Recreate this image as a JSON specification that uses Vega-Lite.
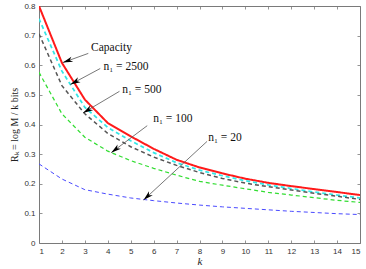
{
  "$schema": "https://vega.github.io/schema/vega-lite/v6.json",
  "width": 321,
  "height": 237,
  "autosize": "none",
  "padding": {"left": 39, "top": 6, "right": 6, "bottom": 26},
  "background": "white",
  "config": {
    "view": {"stroke": null},
    "axis": {
      "labelFont": "Liberation Sans",
      "labelFontSize": 8,
      "labelColor": "#333333",
      "domainColor": "#7a7a7a",
      "tickColor": "#7a7a7a",
      "domainWidth": 1,
      "tickWidth": 0.8,
      "tickSize": -3,
      "grid": false,
      "titleFont": "Liberation Serif",
      "titleFontWeight": "normal",
      "titleColor": "#222222"
    }
  },
  "datasets": {
    "curves": [
      {"k": 1, "v": 0.800, "s": "Capacity"}, {"k": 2, "v": 0.608, "s": "Capacity"}, {"k": 3, "v": 0.484, "s": "Capacity"}, {"k": 4, "v": 0.405, "s": "Capacity"}, {"k": 5, "v": 0.360, "s": "Capacity"}, {"k": 6, "v": 0.318, "s": "Capacity"}, {"k": 7, "v": 0.281, "s": "Capacity"}, {"k": 8, "v": 0.255, "s": "Capacity"}, {"k": 9, "v": 0.235, "s": "Capacity"}, {"k": 10, "v": 0.217, "s": "Capacity"}, {"k": 11, "v": 0.203, "s": "Capacity"}, {"k": 12, "v": 0.192, "s": "Capacity"}, {"k": 13, "v": 0.182, "s": "Capacity"}, {"k": 14, "v": 0.172, "s": "Capacity"}, {"k": 15, "v": 0.162, "s": "Capacity"},
      {"k": 1, "v": 0.757, "s": "n2500"}, {"k": 2, "v": 0.580, "s": "n2500"}, {"k": 3, "v": 0.458, "s": "n2500"}, {"k": 4, "v": 0.390, "s": "n2500"}, {"k": 5, "v": 0.345, "s": "n2500"}, {"k": 6, "v": 0.305, "s": "n2500"}, {"k": 7, "v": 0.271, "s": "n2500"}, {"k": 8, "v": 0.246, "s": "n2500"}, {"k": 9, "v": 0.227, "s": "n2500"}, {"k": 10, "v": 0.210, "s": "n2500"}, {"k": 11, "v": 0.196, "s": "n2500"}, {"k": 12, "v": 0.184, "s": "n2500"}, {"k": 13, "v": 0.172, "s": "n2500"}, {"k": 14, "v": 0.162, "s": "n2500"}, {"k": 15, "v": 0.152, "s": "n2500"},
      {"k": 1, "v": 0.706, "s": "n500"}, {"k": 2, "v": 0.531, "s": "n500"}, {"k": 3, "v": 0.436, "s": "n500"}, {"k": 4, "v": 0.370, "s": "n500"}, {"k": 5, "v": 0.325, "s": "n500"}, {"k": 6, "v": 0.290, "s": "n500"}, {"k": 7, "v": 0.262, "s": "n500"}, {"k": 8, "v": 0.238, "s": "n500"}, {"k": 9, "v": 0.218, "s": "n500"}, {"k": 10, "v": 0.202, "s": "n500"}, {"k": 11, "v": 0.190, "s": "n500"}, {"k": 12, "v": 0.179, "s": "n500"}, {"k": 13, "v": 0.168, "s": "n500"}, {"k": 14, "v": 0.158, "s": "n500"}, {"k": 15, "v": 0.147, "s": "n500"},
      {"k": 1, "v": 0.576, "s": "n100"}, {"k": 2, "v": 0.436, "s": "n100"}, {"k": 3, "v": 0.357, "s": "n100"}, {"k": 4, "v": 0.310, "s": "n100"}, {"k": 5, "v": 0.278, "s": "n100"}, {"k": 6, "v": 0.252, "s": "n100"}, {"k": 7, "v": 0.229, "s": "n100"}, {"k": 8, "v": 0.208, "s": "n100"}, {"k": 9, "v": 0.195, "s": "n100"}, {"k": 10, "v": 0.183, "s": "n100"}, {"k": 11, "v": 0.171, "s": "n100"}, {"k": 12, "v": 0.162, "s": "n100"}, {"k": 13, "v": 0.153, "s": "n100"}, {"k": 14, "v": 0.144, "s": "n100"}, {"k": 15, "v": 0.137, "s": "n100"},
      {"k": 1, "v": 0.267, "s": "n20"}, {"k": 2, "v": 0.216, "s": "n20"}, {"k": 3, "v": 0.180, "s": "n20"}, {"k": 4, "v": 0.165, "s": "n20"}, {"k": 5, "v": 0.152, "s": "n20"}, {"k": 6, "v": 0.143, "s": "n20"}, {"k": 7, "v": 0.135, "s": "n20"}, {"k": 8, "v": 0.128, "s": "n20"}, {"k": 9, "v": 0.122, "s": "n20"}, {"k": 10, "v": 0.117, "s": "n20"}, {"k": 11, "v": 0.112, "s": "n20"}, {"k": 12, "v": 0.107, "s": "n20"}, {"k": 13, "v": 0.103, "s": "n20"}, {"k": 14, "v": 0.099, "s": "n20"}, {"k": 15, "v": 0.096, "s": "n20"}
    ],
    "notes": [
      {"label": "Capacity", "kt": 3.27, "vt": 0.657, "k0": 3.15, "v0": 0.640, "k1": 2.04, "v1": 0.609, "dir": 250.6},
      {"label": "n₁ = 2500", "kt": 3.81, "vt": 0.593, "k0": 3.67, "v0": 0.589, "k1": 2.37, "v1": 0.535, "dir": 241.9},
      {"label": "n₁ = 500", "kt": 4.63, "vt": 0.517, "k0": 4.51, "v0": 0.512, "k1": 2.92, "v1": 0.439, "dir": 239.2},
      {"label": "n₁ = 100", "kt": 5.98, "vt": 0.420, "k0": 5.72, "v0": 0.396, "k1": 4.15, "v1": 0.305, "dir": 233.1},
      {"label": "n₁ = 20", "kt": 8.38, "vt": 0.354, "k0": 8.33, "v0": 0.343, "k1": 5.56, "v1": 0.145, "dir": 227.3}
    ]
  },
  "resolve": {"axis": {"x": "independent", "y": "independent"}},
  "layer": [
    {
      "data": {"name": "curves"},
      "mark": {"type": "line", "clip": true},
      "encoding": {
        "x": {"field": "k", "type": "quantitative",
          "scale": {"domain": [1, 15], "nice": false, "zero": false},
          "axis": {"orient": "bottom", "values": [1,2,3,4,5,6,7,8,9,10,11,12,13,14,15], "labelPadding": 7, "title": "k", "titleFontStyle": "italic", "titleFontSize": 11, "titlePadding": 0}},
        "y": {"field": "v", "type": "quantitative",
          "scale": {"domain": [0, 0.8], "nice": false, "zero": true},
          "axis": {"orient": "left", "values": [0,0.1,0.2,0.3,0.4,0.5,0.6,0.7,0.8], "labelExpr": "datum.value == 0 ? '0' : format(datum.value, '.1f')", "labelPadding": 7, "title": "Rₖ = log M / k  bits", "titleFontSize": 10, "titlePadding": 4}},
        "detail": {"field": "s"},
        "color": {"field": "s", "type": "nominal", "legend": null,
          "scale": {"domain": ["Capacity", "n2500", "n500", "n100", "n20"], "range": ["#ff1a1a", "#33e6e6", "#555555", "#33dd33", "#4a4aff"]}},
        "strokeDash": {"field": "s", "type": "nominal", "legend": null,
          "scale": {"domain": ["Capacity", "n2500", "n500", "n100", "n20"], "range": [[1, 0], [4, 3], [4, 3], [4, 3], [4, 3]]}},
        "strokeWidth": {"field": "s", "type": "nominal", "legend": null,
          "scale": {"domain": ["Capacity", "n2500", "n500", "n100", "n20"], "range": [2, 1, 1, 1, 1]}}
      }
    },
    {
      "data": {"name": "curves"},
      "mark": {"type": "point", "opacity": 0},
      "encoding": {
        "x": {"field": "k", "type": "quantitative",
          "axis": {"orient": "top", "values": [1,2,3,4,5,6,7,8,9,10,11,12,13,14,15], "labels": false, "title": null}},
        "y": {"field": "v", "type": "quantitative",
          "axis": {"orient": "right", "values": [0,0.1,0.2,0.3,0.4,0.5,0.6,0.7,0.8], "labels": false, "title": null}}
      }
    },
    {
      "data": {"name": "notes"},
      "mark": {"type": "rule", "color": "#555555", "strokeWidth": 0.8},
      "encoding": {
        "x": {"field": "k0", "type": "quantitative", "axis": null},
        "y": {"field": "v0", "type": "quantitative", "axis": null},
        "x2": {"field": "k1"},
        "y2": {"field": "v1"}
      }
    },
    {
      "data": {"name": "notes"},
      "mark": {"type": "point", "filled": true, "color": "#000000", "opacity": 1, "size": 100, "shape": "M0,0 L0.55,2 L0,1.45 L-0.55,2 Z"},
      "encoding": {
        "x": {"field": "k1", "type": "quantitative", "axis": null},
        "y": {"field": "v1", "type": "quantitative", "axis": null},
        "angle": {"field": "dir", "type": "quantitative", "scale": null}
      }
    },
    {
      "data": {"name": "notes"},
      "mark": {"type": "text", "align": "left", "baseline": "middle", "font": "Liberation Serif", "fontSize": 11.5, "color": "#111111"},
      "encoding": {
        "x": {"field": "kt", "type": "quantitative", "axis": null},
        "y": {"field": "vt", "type": "quantitative", "axis": null},
        "text": {"field": "label"}
      }
    }
  ]
}
